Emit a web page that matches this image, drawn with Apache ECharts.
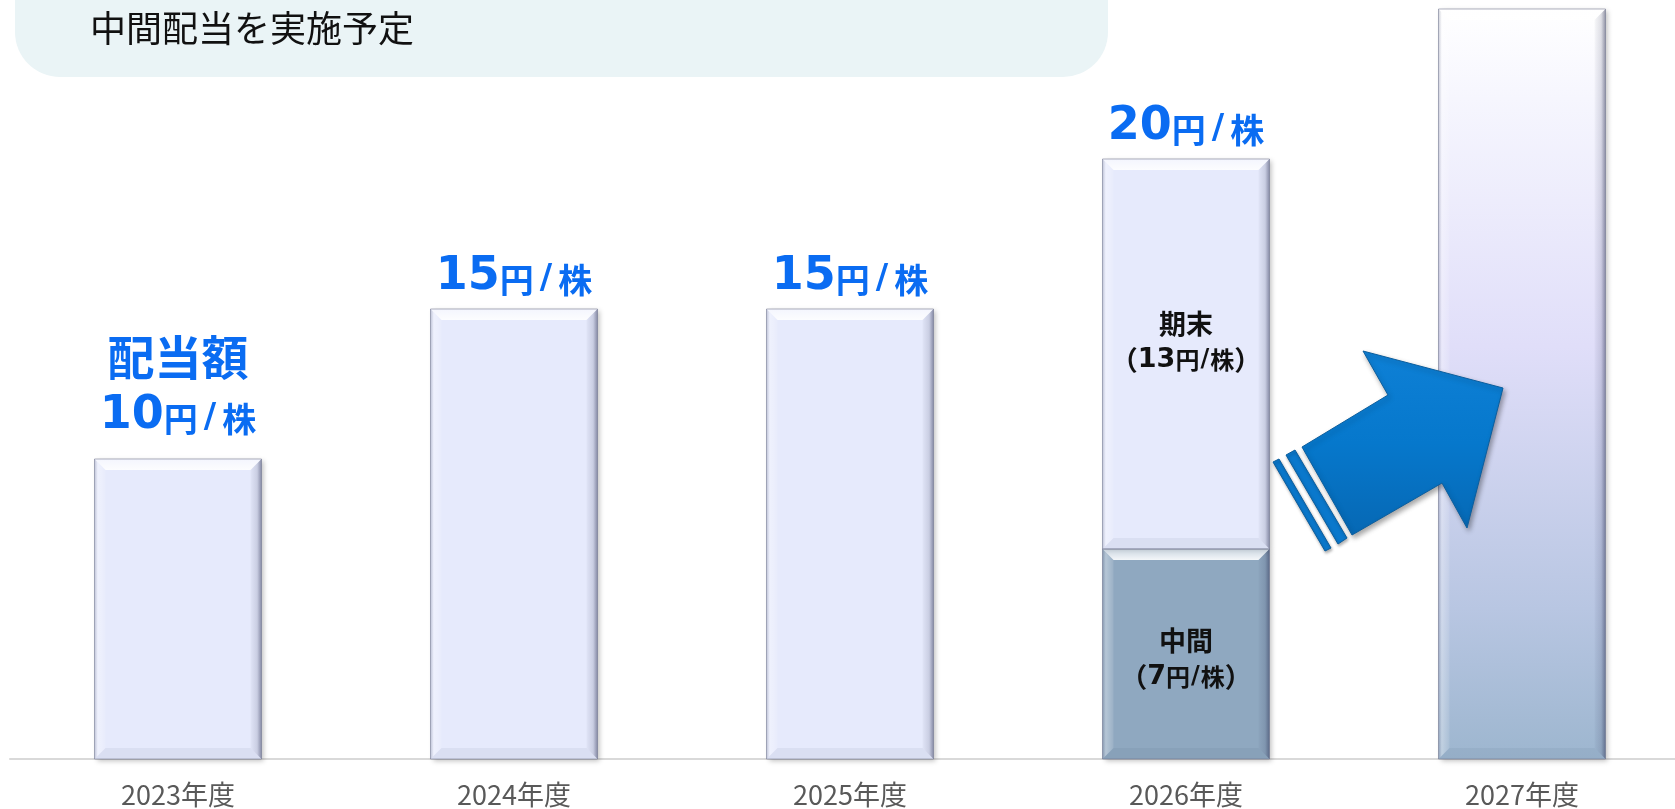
<!DOCTYPE html>
<html><head><meta charset="utf-8">
<script src="https://cdn.jsdelivr.net/npm/echarts@6/dist/echarts.min.js"></script>
<style>html,body{margin:0;padding:0;background:#fff}#c{width:1675px;height:809px}</style>
</head><body><div id="c"></div>
<script>
// ---- data ----
const categories = ['2023年度', '2024年度', '2025年度', '2026年度', '2027年度'];
const annualDividend = [10, 15, 15, null, null];      // 年間配当（単一）
const interimDividend = [null, null, null, 7, null];  // 中間
const yearEndDividend = [null, null, null, 13, null]; // 期末
const totalDividend = [10, 15, 15, 20, null];         // 合計ラベル
const futureBar = [null, null, null, null, 25];       // 2027年度（イメージ）
const titleText = '中間配当を実施予定';

const FONT = '"Noto Sans CJK JP", "Noto Sans", sans-serif';
const NUMFONT = '"DejaVu Sans", sans-serif';
const BLUE = '#0A6CF2';
const BAR_W = 167;

// bevel segments [categoryIndex, base, top] built from the series arrays
const segments = [];
categories.forEach((c, i) => {
  if (annualDividend[i] != null) segments.push([i, 0, annualDividend[i]]);
  if (interimDividend[i] != null) segments.push([i, 0, interimDividend[i]]);
  if (yearEndDividend[i] != null) segments.push([i, (interimDividend[i] || 0), (interimDividend[i] || 0) + yearEndDividend[i]]);
  if (futureBar[i] != null) segments.push([i, 0, futureBar[i]]);
});

const chart = echarts.init(document.getElementById('c'), null, {renderer: 'canvas'});

const futureFill = new echarts.graphic.LinearGradient(0, 0, 0, 1, [
  {offset: 0, color: '#FFFFFF'},
  {offset: 0.12, color: '#F6F6FE'},
  {offset: 0.45, color: '#E0DEF9'},
  {offset: 0.8, color: '#B8C6E2'},
  {offset: 1, color: '#9DB6CF'}
]);

const baseItem = {
  shadowColor: 'rgba(0,0,0,0.25)', shadowBlur: 5, shadowOffsetX: 2, shadowOffsetY: 2
};

function bevel(params, api) {
  const idx = api.value(0), b = api.value(1), t = api.value(2);
  const p0 = api.coord([idx, b]), p1 = api.coord([idx, t]);
  const w = BAR_W, s = 11;
  const x0 = p0[0] - w / 2, x1 = p0[0] + w / 2, yT = p1[1], yB = p0[1];
  return {
    type: 'group',
    children: [
      {type: 'polygon', shape: {points: [[x0, yT], [x1, yT], [x1 - s, yT + s], [x0 + s, yT + s]]},
        style: {fill: new echarts.graphic.LinearGradient(0, 0, 0, 1, [
          {offset: 0, color: 'rgba(255,255,255,0.55)'}, {offset: 1, color: 'rgba(255,255,255,0.9)'}])}},
      {type: 'polygon', shape: {points: [[x0, yT], [x0 + s, yT + s], [x0 + s, yB - s], [x0, yB]]},
        style: {fill: new echarts.graphic.LinearGradient(0, 0, 1, 0, [
          {offset: 0, color: 'rgba(120,125,150,0.35)'}, {offset: 0.3, color: 'rgba(255,255,255,0.35)'}, {offset: 1, color: 'rgba(255,255,255,0.1)'}])}},
      {type: 'polygon', shape: {points: [[x1, yT], [x1, yB], [x1 - s, yB - s], [x1 - s, yT + s]]},
        style: {fill: new echarts.graphic.LinearGradient(0, 0, 1, 0, [
          {offset: 0, color: 'rgba(40,45,80,0.03)'}, {offset: 0.6, color: 'rgba(40,45,80,0.15)'}, {offset: 1, color: 'rgba(40,45,80,0.5)'}])}},
      {type: 'polygon', shape: {points: [[x0, yB], [x1, yB], [x1 - s, yB - s], [x0 + s, yB - s]]},
        style: {fill: 'rgba(40,45,80,0.06)'}},
      {type: 'rect', shape: {x: x0, y: yT, width: w, height: yB - yT},
        style: {fill: 'none', stroke: 'rgba(110,115,140,0.55)', lineWidth: 1}}
    ]
  };
}

const labelRich = {
  h: {fontSize: 27, fontWeight: 'bold', color: '#111', lineHeight: 36, fontFamily: FONT},
  p: {fontSize: 27, fontWeight: 'bold', color: '#111', lineHeight: 36, fontFamily: FONT},
  d: {fontSize: 27, fontWeight: 'bold', color: '#111', lineHeight: 36, fontFamily: NUMFONT},
  u: {fontSize: 24, fontWeight: 'bold', color: '#111', lineHeight: 36, fontFamily: FONT},
  s: {fontSize: 24, fontWeight: 'bold', color: '#111', lineHeight: 36, fontFamily: NUMFONT, padding: [0, 1, 0, 1]}
};
const segLabel = (head) => p => '{h|' + head + '}\n{p|（}{d|' + p.value + '}{u|円}{s|/}{u|株}{p|）}';

const totalRich = {
  h: {fontSize: 47, fontWeight: 'bold', color: BLUE, lineHeight: 46, fontFamily: FONT},
  n: {fontSize: 46, fontWeight: 'bold', color: BLUE, lineHeight: 50, fontFamily: NUMFONT},
  u: {fontSize: 34, fontWeight: 'bold', color: BLUE, lineHeight: 50, fontFamily: FONT, padding: [6, 0, 0, 0]},
  s: {fontSize: 34, fontWeight: 'bold', color: BLUE, lineHeight: 50, fontFamily: NUMFONT, padding: [4, 6, 0, 6]},
  n0: {fontSize: 46, fontWeight: 'bold', color: BLUE, lineHeight: 72, fontFamily: NUMFONT},
  u0: {fontSize: 34, fontWeight: 'bold', color: BLUE, lineHeight: 72, fontFamily: FONT, padding: [6, 0, 0, 0]},
  s0: {fontSize: 34, fontWeight: 'bold', color: BLUE, lineHeight: 72, fontFamily: NUMFONT, padding: [4, 6, 0, 6]}
};
const totalLabel = p => {
  const k = p.dataIndex === 0 ? '0' : '';
  return (p.dataIndex === 0 ? '{h|配当額}\n' : '') +
    '{n' + k + '|' + p.value + '}{u' + k + '|円}{s' + k + '|/}{u' + k + '|株}';
};

const option = {
  animation: false,
  backgroundColor: '#ffffff',
  grid: {left: 10, width: 1680, top: 9, bottom: 50, outerBoundsMode: 'none', containLabel: false},
  xAxis: {
    type: 'category', data: categories,
    axisTick: {show: false},
    axisLine: {lineStyle: {color: '#D9D9D9', width: 2}},
    axisLabel: {color: '#595959', fontSize: 27, fontFamily: FONT, margin: 22}
  },
  yAxis: {type: 'value', min: 0, max: 25, show: false, splitLine: {show: false}},
  series: [
    {
      name: '年間', type: 'bar', data: annualDividend, barWidth: BAR_W, barGap: '-100%',
      itemStyle: Object.assign({color: '#E6EAFC'}, baseItem)
    },
    {
      name: '中間', type: 'bar', stack: 'd', data: interimDividend, barWidth: BAR_W, barGap: '-100%',
      itemStyle: Object.assign({color: '#8FA8C0'}, baseItem),
      label: {show: true, position: 'inside', offset: [0, 5], fontFamily: FONT, formatter: segLabel('中間'), rich: labelRich}
    },
    {
      name: '期末', type: 'bar', stack: 'd', data: yearEndDividend, barWidth: BAR_W, barGap: '-100%',
      itemStyle: Object.assign({color: '#E6EAFC'}, baseItem),
      label: {show: true, position: 'inside', offset: [0, -12], fontFamily: FONT, formatter: segLabel('期末'), rich: labelRich}
    },
    {
      name: '2027', type: 'bar', data: futureBar, barWidth: BAR_W, barGap: '-100%',
      itemStyle: Object.assign({color: futureFill}, baseItem)
    },
    {
      name: 'bevel', type: 'custom', data: segments, renderItem: bevel, z: 3, silent: true,
      encode: {x: 0, y: [1, 2]}
    },
    {
      name: '合計', type: 'bar', data: totalDividend, barWidth: BAR_W, barGap: '-100%', z: 5,
      itemStyle: {color: 'rgba(0,0,0,0)'},
      label: {show: true, position: 'top', distance: 7, fontFamily: FONT, formatter: totalLabel, rich: totalRich}
    }
  ],
  graphic: [
    {
      type: 'rect', z: 10, shape: {x: 15, y: -60, width: 1093, height: 137, r: 45},
      style: {fill: '#EAF4F6'}
    },
    {
      type: 'text', z: 11, x: 90, y: 28,
      style: {text: titleText, fontSize: 36, fontFamily: FONT, fill: '#111', verticalAlign: 'middle'}
    },
    {
      type: 'polygon', z: 20,
      shape: {points: [[1302, 447], [1388, 395], [1363, 351], [1503, 388], [1467, 528], [1442, 483], [1352, 535]]},
      style: {
        fill: new echarts.graphic.LinearGradient(0, 0, 0, 1, [
          {offset: 0, color: '#0E80D6'}, {offset: 0.5, color: '#0678CC'}, {offset: 1, color: '#0668B4'}
        ]),
        stroke: '#0B5E9E', lineWidth: 1,
        shadowColor: 'rgba(0,0,0,0.35)', shadowBlur: 5, shadowOffsetX: 2, shadowOffsetY: 3
      }
    },
    {
      type: 'polygon', z: 20,
      shape: {points: [[1286, 455], [1295, 450], [1347, 538], [1338, 544]]},
      style: {fill: '#0A78CC', stroke: '#0B5E9E', lineWidth: 1,
        shadowColor: 'rgba(0,0,0,0.3)', shadowBlur: 3, shadowOffsetX: 1, shadowOffsetY: 2}
    },
    {
      type: 'polygon', z: 20,
      shape: {points: [[1273, 462], [1279, 459], [1331, 548], [1325, 551]]},
      style: {fill: '#0A78CC', stroke: '#0B5E9E', lineWidth: 1,
        shadowColor: 'rgba(0,0,0,0.3)', shadowBlur: 3, shadowOffsetX: 1, shadowOffsetY: 2}
    }
  ]
};
chart.setOption(option);
</script>
</body></html>
